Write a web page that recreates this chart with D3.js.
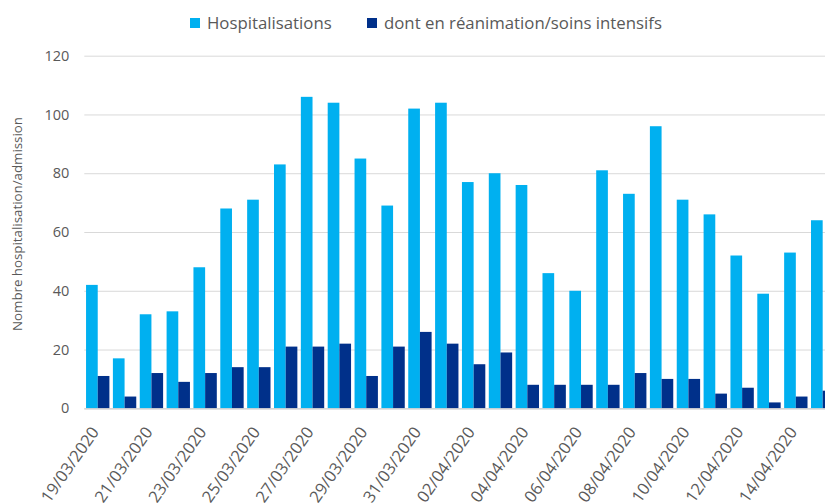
<!DOCTYPE html>
<html>
<head>
<meta charset="utf-8">
<script src="https://cdn.jsdelivr.net/npm/d3@7"></script>
<style>
  body { margin: 0; background: #fff; }
  svg { display: block; font-family: "Open Sans", sans-serif; }
</style>
</head>
<body>
<svg id="chart" width="825" height="503"></svg>
<script>
// daily values, 19/03/2020 -> 15/04/2020
const dates = [
  "19/03/2020", "20/03/2020", "21/03/2020", "22/03/2020", "23/03/2020", "24/03/2020", "25/03/2020",
  "26/03/2020", "27/03/2020", "28/03/2020", "29/03/2020", "30/03/2020", "31/03/2020", "01/04/2020",
  "02/04/2020", "03/04/2020", "04/04/2020", "05/04/2020", "06/04/2020", "07/04/2020", "08/04/2020",
  "09/04/2020", "10/04/2020", "11/04/2020", "12/04/2020", "13/04/2020", "14/04/2020", "15/04/2020"
];
const hospitalisations = [42, 17, 32, 33, 48, 68, 71, 83, 106, 104, 85, 69, 102, 104, 77, 80, 76, 46, 40, 81, 73, 96, 71, 66, 52, 39, 53, 64];
const reanimation = [11, 4, 12, 9, 12, 14, 14, 21, 21, 22, 11, 21, 26, 22, 15, 19, 8, 8, 8, 8, 12, 10, 10, 5, 7, 2, 4, 6];
const yTicks = [0, 20, 40, 60, 80, 100, 120];

const seriesNames = ["Hospitalisations", "dont en réanimation/soins intensifs"];
const colors = ["#00b0f0", "#00308a"];
const textColor = "#595959";

const svg = d3.select("#chart");

// plot area runs past the right edge of the window, like the original
const plotLeft = 84.3, step = 26.85;
const plotTop = 55.7, plotBottom = 408.3;

const x = d3.scaleBand()
  .domain(dates)
  .range([plotLeft, plotLeft + step * dates.length])
  .paddingInner(0.13)
  .paddingOuter(0.065);

const xSub = d3.scaleBand()
  .domain([0, 1])
  .range([0, x.bandwidth()]);

const y = d3.scaleLinear()
  .domain([0, 120])
  .range([plotBottom, plotTop]);

// gridlines + y labels
const yAxis = svg.append("g")
  .attr("transform", `translate(${plotLeft},0)`)
  .call(d3.axisLeft(y).tickValues(yTicks).tickSize(-(825 - plotLeft)).tickPadding(15));

yAxis.select(".domain").remove();
yAxis.selectAll(".tick line").attr("stroke", "#d9d9d9").attr("stroke-width", 1);
yAxis.selectAll(".tick text")
  .attr("fill", textColor)
  .style("font-size", "14.5px")
  .style("font-family", "Open Sans, sans-serif");

// bars
const groups = svg.append("g")
  .selectAll("g")
  .data(dates.map((d, i) => ({ date: d, values: [hospitalisations[i], reanimation[i]] })))
  .join("g")
  .attr("transform", d => `translate(${x(d.date)},0)`);

groups.selectAll("rect")
  .data(d => d.values)
  .join("rect")
  .attr("x", (v, i) => xSub(i))
  .attr("y", v => y(v))
  .attr("width", xSub.bandwidth())
  .attr("height", v => plotBottom - y(v))
  .attr("fill", (v, i) => colors[i]);

// baseline
svg.append("line")
  .attr("x1", plotLeft).attr("x2", 825)
  .attr("y1", plotBottom + 0.5).attr("y2", plotBottom + 0.5)
  .attr("stroke", "#d0d0d0")
  .attr("stroke-width", 1.2);

// x labels, one every two days
svg.append("g")
  .selectAll("text")
  .data(dates.filter((d, i) => i % 2 === 0))
  .join("text")
  .attr("transform", d => `translate(${x(d) + x.bandwidth() / 2 + 2},432) rotate(-55)`)
  .attr("text-anchor", "end")
  .attr("fill", textColor)
  .style("font-size", "16.5px")
  .text(d => d);

// y axis title
svg.append("text")
  .attr("transform", "translate(22,224) rotate(-90)")
  .attr("text-anchor", "middle")
  .attr("fill", textColor)
  .style("font-size", "13.3px")
  .text("Nombre hospitalisation/admission");

// legend
const legendX = [190, 367];
const legend = svg.append("g")
  .selectAll("g")
  .data(seriesNames)
  .join("g")
  .attr("transform", (d, i) => `translate(${legendX[i]},18)`);

legend.append("rect")
  .attr("width", 10)
  .attr("height", 10)
  .attr("fill", (d, i) => colors[i]);

legend.append("text")
  .attr("x", 17)
  .attr("y", 10.8)
  .attr("fill", textColor)
  .style("font-size", "16.8px")
  .text(d => d);
</script>
</body>
</html>
